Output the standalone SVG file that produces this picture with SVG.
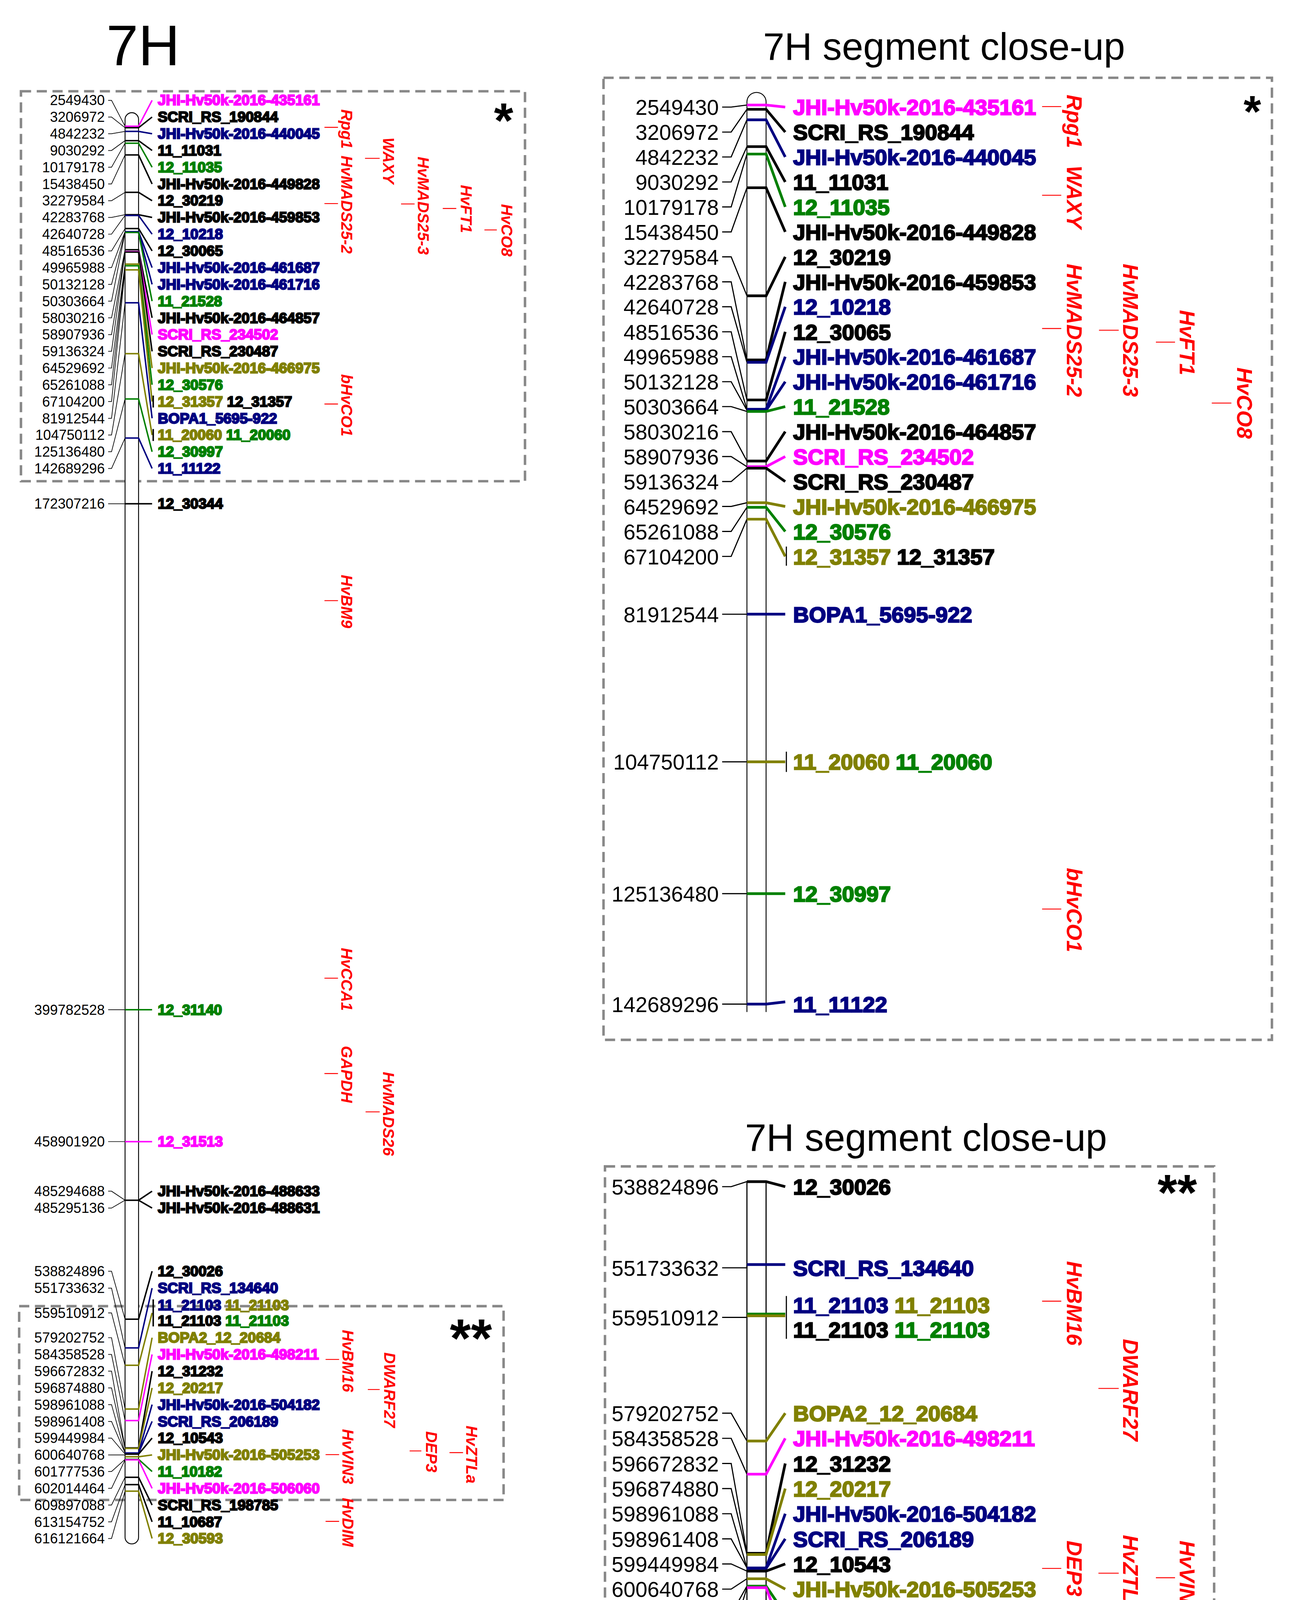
<svg xmlns="http://www.w3.org/2000/svg" width="3306" height="4520" viewBox="0 0 3306 4520">
<style>
text{font-family:"Liberation Sans",Arial,sans-serif}
.t{font-size:51px}
.tt{font-size:34px}
.n{font-size:12.5px;text-anchor:end}
.m{font-size:13px;font-weight:bold}
.N{font-size:19px;text-anchor:end}
.M{font-size:19.5px;font-weight:bold}
.g{font-size:14px;font-weight:bold;font-style:italic;fill:#ff0000}
.G{font-size:19px;font-weight:bold;font-style:italic;fill:#ff0000}
.box{fill:none;stroke:#888;stroke-width:2.2;stroke-dasharray:9 5}
.chr{fill:#fff;stroke:#000;stroke-width:0.8}
.lc{fill:none;stroke:#000;stroke-width:0.6}
.rc{fill:none;stroke-width:1.3}
.LC{fill:none;stroke:#000;stroke-width:1}
.RC{fill:none;stroke-width:2.4}
.gt{stroke:#ff0000;stroke-width:0.8}
.k{fill:#000;stroke:#000}.p{fill:#ff00ff;stroke:#ff00ff}.b{fill:#000080;stroke:#000080}.e{fill:#008000;stroke:#008000}.o{fill:#808000;stroke:#808000}
path.k,path.p,path.b,path.e,path.o{fill:none}
</style>
<rect width="3306" height="4520" fill="#fff"/>
<g transform="scale(2.885)">
<g id="titles">
<text class="t" x="127" y="58" text-anchor="middle">7H</text>
<text class="tt" x="838" y="53" text-anchor="middle">7H segment close-up</text>
<text class="tt" x="822" y="1021" text-anchor="middle">7H segment close-up</text>
</g>
<g id="boxes">
<rect class="box" x="18.6" y="81" width="447.4" height="346"/>
<rect class="box" x="17" y="1159" width="430" height="172"/>
<rect class="box" x="535.7" y="69" width="593.3" height="853.7"/>
<rect class="box" x="537" y="1035" width="540.7" height="511.6"/>
<text x="447" y="122" font-size="44" font-weight="bold" text-anchor="middle">*</text>
<text x="418" y="1204" font-size="48" font-weight="bold" text-anchor="middle">**</text>
<text x="1111.6" y="112.5" font-size="40" font-weight="bold" text-anchor="middle">*</text>
<text x="1045" y="1074" font-size="45" font-weight="bold" text-anchor="middle">**</text>
</g>
<g id="chromosomes">
<rect class="chr" x="111" y="100" width="12" height="1270" rx="6"/>
<path class="chr" d="M663 898V90.5A8.5 8.5 0 0 1 680 90.5V898" stroke-width="1"/>
<path fill="none" stroke="#000" stroke-width="1" d="M663 1048V1529M680 1048V1529"/>
</g>
<g id="connectors">
<!-- left top -->
<path class="lc" d="M96 89H99L111 112M96 103.85H99L111 113.3M96 118.7H99L111 116.6M96 133.55H99L111 124.8M96 148.4H99L111 127.1M96 163.25H99L111 137.5M96 178.1H99L111 170.7M96 192.95H99L111 190.5M96 207.8H99L111 191.2M96 222.65H99L111 202.8M96 237.5H99L111 205.6M96 252.35H99L111 206M96 267.2H99L111 206.3M96 282.05H99L111 221.6M96 296.9H99L111 223.3M96 311.75H99L111 223.7M96 326.6H99L111 234.4M96 341.45H99L111 235.8M96 356.3H99L111 239.5M96 371.15H99L111 268.7M96 386H99L111 313.8M96 400.85H99L111 354M96 415.7H99L111 388.7"/>
<path class="rc p" d="M111 112H123L135 89"/>
<path class="rc k" d="M111 113.3H123L135 103.85"/>
<path class="rc b" d="M111 116.6H123L135 118.7"/>
<path class="rc k" d="M111 124.8H123L135 133.55"/>
<path class="rc e" d="M111 127.1H123L135 148.4"/>
<path class="rc k" d="M111 137.5H123L135 163.25"/>
<path class="rc k" d="M111 170.7H123L135 178.1"/>
<path class="rc k" d="M111 190.5H123L135 192.95"/>
<path class="rc b" d="M111 191.2H123L135 207.8"/>
<path class="rc k" d="M111 202.8H123L135 222.65"/>
<path class="rc b" d="M111 205.6H123L135 237.5"/>
<path class="rc b" d="M111 206H123L135 252.35"/>
<path class="rc e" d="M111 206.3H123L135 267.2"/>
<path class="rc k" d="M111 221.6H123L135 282.05"/>
<path class="rc p" d="M111 223.3H123L135 296.9"/>
<path class="rc k" d="M111 223.7H123L135 311.75"/>
<path class="rc o" d="M111 234.4H123L135 326.6"/>
<path class="rc e" d="M111 235.8H123L135 341.45"/>
<path class="rc o" d="M111 239.5H123L135 356.3"/>
<path class="rc k" d="M136 351V361.6"/>
<path class="rc b" d="M111 268.7H123L135 371.15"/>
<path class="rc o" d="M111 313.8H123L135 386"/>
<path class="rc k" d="M136 380.7V391.3"/>
<path class="rc e" d="M111 354H123L135 400.85"/>
<path class="rc b" d="M111 388.7H123L135 415.7"/>
<!-- left middle -->
<path class="lc" d="M96 447H111M96 896H111M96 1013H111M96 1057H99L111 1065M96 1072H99L111 1065"/>
<path class="rc k" d="M111 447H135"/>
<path class="rc e" d="M111 896H135"/>
<path class="rc p" d="M111 1013H135"/>
<path class="rc k" d="M111 1065H123L135 1057M123 1065L135 1072"/>
<!-- left bottom -->
<path class="lc" d="M96 1128H99L111 1170.6M96 1143H99L111 1196.1M96 1165H99L111 1211.5M96 1187H99L111 1250.3M96 1201.9H99L111 1260.5M96 1216.7H99L111 1284.8M96 1231.6H99L111 1285.2M96 1246.4H99L111 1289.3M96 1261.3H99L111 1289.3M96 1276.1H99L111 1290.3M96 1291H111L111 1292.7M96 1305.8H99L111 1294.9M96 1320.7H99L111 1295.4M96 1335.5H99L111 1310.9M96 1350.4H99L111 1317.4M96 1365.2H99L111 1323.2"/>
<path class="rc k" d="M111 1170.6H123L135 1128"/>
<path class="rc b" d="M111 1196.1H123L135 1143"/>
<path class="rc o" d="M111 1211.5H123L135 1165"/>
<path class="rc k" d="M136 1153V1177"/>
<path class="rc o" d="M111 1250.3H123L135 1187"/>
<path class="rc p" d="M111 1260.5H123L135 1201.9"/>
<path class="rc k" d="M111 1284.8H123L135 1216.7"/>
<path class="rc o" d="M111 1285.2H123L135 1231.6"/>
<path class="rc b" d="M111 1289.3H123L135 1246.4"/>
<path class="rc b" d="M111 1289.5H123L135 1261.3"/>
<path class="rc k" d="M111 1290.3H123L135 1276.1"/>
<path class="rc o" d="M111 1292.7H123L135 1291"/>
<path class="rc e" d="M111 1294.9H123L135 1305.8"/>
<path class="rc p" d="M111 1295.4H123L135 1320.7"/>
<path class="rc k" d="M111 1310.9H123L135 1335.5"/>
<path class="rc k" d="M111 1317.4H123L135 1350.4"/>
<path class="rc o" d="M111 1323.2H123L135 1365.2"/>
<!-- right top -->
<path class="LC" d="M641 95H649L663 93.2M641 117.2H649L663 97M641 139.3H649L663 106.3M641 161.5H649L663 130.1M641 183.6H649L663 136.7M641 205.8H649L663 166.6M641 227.9H649L663 262.5M641 250.1H649L663 319.4M641 272.2H649L663 321.5M641 294.4H649L663 354.9M641 316.5H649L663 363.2M641 338.7H649L663 364.1M641 360.8H649L663 365.1M641 383H649L663 409.1M641 405.1H649L663 414.1M641 427.3H649L663 415.4M641 449.4H649L663 446.1M641 471.6H649L663 450.2M641 493.7H649L663 460.7M641 545H663M641 676H663M641 793H663M641 891H663"/>
<path class="RC p" d="M663 93.2H680L697 95"/>
<path class="RC k" d="M663 97H680L697 117.2"/>
<path class="RC b" d="M663 106.3H680L697 139.3"/>
<path class="RC k" d="M663 130.1H680L697 161.5"/>
<path class="RC e" d="M663 136.7H680L697 183.6"/>
<path class="RC k" d="M663 166.6H680L697 205.8"/>
<path class="RC k" d="M663 262.5H680L697 227.9"/>
<path class="RC k" d="M663 319.4H680L697 250.1"/>
<path class="RC b" d="M663 321.5H680L697 272.2"/>
<path class="RC k" d="M663 354.9H680L697 294.4"/>
<path class="RC b" d="M663 363.2H680L697 316.5"/>
<path class="RC b" d="M663 364.1H680L697 338.7"/>
<path class="RC e" d="M663 365.1H680L697 360.8"/>
<path class="RC k" d="M663 409.1H680L697 383"/>
<path class="RC p" d="M663 414.1H680L697 405.1"/>
<path class="RC k" d="M663 415.4H680L697 427.3"/>
<path class="RC o" d="M663 446.1H680L697 449.4"/>
<path class="RC e" d="M663 450.2H680L697 471.6"/>
<path class="RC o" d="M663 460.7H680L697 493.7"/>
<path class="LC" d="M698 485V502"/>
<path class="RC b" d="M663 545H697"/>
<path class="RC o" d="M663 676H697"/>
<path class="LC" d="M698 667V685"/>
<path class="RC e" d="M663 793H697"/>
<path class="RC b" d="M663 891H680L697 889"/>
<!-- right bottom -->
<path class="LC" d="M641 1053H649L663 1048.5M641 1125H663L663 1122.1M641 1169H663L663 1166.4M641 1254H649L663 1278.7M641 1276.3H649L663 1308.1M641 1298.6H649L663 1378.3M641 1320.9H649L663 1379.4M641 1343.2H649L663 1391.3M641 1365.5H649L663 1391.3M641 1387.8H649L663 1394.1M641 1410.1H649L663 1400.9M641 1432.4H649L663 1407.4M641 1454.7H649L663 1408.8M641 1477H649L663 1453.7M641 1499.3H649L663 1472.3M641 1521.6H649L663 1489.2"/>
<path class="RC k" d="M663 1048.5H680L697 1053"/>
<path class="RC b" d="M663 1122.1H697"/>
<path class="RC e" d="M663 1166H697"/>
<path class="RC o" d="M663 1167.6H697" stroke-width="1.4"/>
<path class="LC" d="M698 1150V1188"/>
<path class="RC o" d="M663 1278.7H680L697 1254"/>
<path class="RC p" d="M663 1308.1H680L697 1276.3"/>
<path class="RC k" d="M663 1378.3H680L697 1298.6"/>
<path class="RC o" d="M663 1379.4H680L697 1320.9"/>
<path class="RC b" d="M663 1391.3H680L697 1343.2"/>
<path class="RC b" d="M663 1391.8H680L697 1365.5"/>
<path class="RC k" d="M663 1394.1H680L697 1387.8"/>
<path class="RC o" d="M663 1400.9H680L697 1410.1"/>
<path class="RC e" d="M663 1407.4H680L697 1432.4"/>
<path class="RC p" d="M663 1408.8H680L697 1454.7"/>
<path class="RC k" d="M663 1453.7H680L697 1477"/>
<path class="RC k" d="M663 1472.3H680L697 1499.3"/>
<path class="RC o" d="M663 1489.2H680L697 1521.6"/>
<!-- gene ticks -->
<path class="gt" d="M288 113H300M324 140.5H337M288 180.6H300M356 181H368M393 185H405M430 204H441M288 358.5H300M288 533H300M288 868H300M288 952.6H300M324.5 986.6H337M289 1206.3H301M326.5 1233H337M289 1290.8H301M363.6 1287.5H374M399 1289H411M289 1350H301"/>
<path class="gt" stroke-width="1.1" d="M925 94.6H942M925 173.3H942M925 291.5H942M975.5 293H993M1026 303.6H1043M1075.6 357.7H1093M925 806.6H942M925 1154.6H942M975 1232H993M925 1391.7H942M975 1396H993M1026 1400H1043"/>
</g>
<g id="left-top-markers">
<g id="L1"><text class="n" x="93" y="93.4">2549430</text><text class="m p" x="140" y="93.4">JHI-Hv50k-2016-435161</text></g>
<g id="L2"><text class="n" x="93" y="108.3">3206972</text><text class="m k" x="140" y="108.3">SCRI_RS_190844</text></g>
<g id="L3"><text class="n" x="93" y="123.1">4842232</text><text class="m b" x="140" y="123.1">JHI-Hv50k-2016-440045</text></g>
<g id="L4"><text class="n" x="93" y="138">9030292</text><text class="m k" x="140" y="138">11_11031</text></g>
<g id="L5"><text class="n" x="93" y="152.8">10179178</text><text class="m e" x="140" y="152.8">12_11035</text></g>
<g id="L6"><text class="n" x="93" y="167.7">15438450</text><text class="m k" x="140" y="167.7">JHI-Hv50k-2016-449828</text></g>
<g id="L7"><text class="n" x="93" y="182.5">32279584</text><text class="m k" x="140" y="182.5">12_30219</text></g>
<g id="L8"><text class="n" x="93" y="197.4">42283768</text><text class="m k" x="140" y="197.4">JHI-Hv50k-2016-459853</text></g>
<g id="L9"><text class="n" x="93" y="212.2">42640728</text><text class="m b" x="140" y="212.2">12_10218</text></g>
<g id="L10"><text class="n" x="93" y="227.1">48516536</text><text class="m k" x="140" y="227.1">12_30065</text></g>
<g id="L11"><text class="n" x="93" y="241.9">49965988</text><text class="m b" x="140" y="241.9">JHI-Hv50k-2016-461687</text></g>
<g id="L12"><text class="n" x="93" y="256.8">50132128</text><text class="m b" x="140" y="256.8">JHI-Hv50k-2016-461716</text></g>
<g id="L13"><text class="n" x="93" y="271.6">50303664</text><text class="m e" x="140" y="271.6">11_21528</text></g>
<g id="L14"><text class="n" x="93" y="286.5">58030216</text><text class="m k" x="140" y="286.5">JHI-Hv50k-2016-464857</text></g>
<g id="L15"><text class="n" x="93" y="301.3">58907936</text><text class="m p" x="140" y="301.3">SCRI_RS_234502</text></g>
<g id="L16"><text class="n" x="93" y="316.2">59136324</text><text class="m k" x="140" y="316.2">SCRI_RS_230487</text></g>
<g id="L17"><text class="n" x="93" y="331">64529692</text><text class="m o" x="140" y="331">JHI-Hv50k-2016-466975</text></g>
<g id="L18"><text class="n" x="93" y="345.9">65261088</text><text class="m e" x="140" y="345.9">12_30576</text></g>
<g id="L19"><text class="n" x="93" y="360.7">67104200</text><text class="m" x="140" y="360.7"><tspan class="o">12_31357</tspan> <tspan class="k">12_31357</tspan></text></g>
<g id="L20"><text class="n" x="93" y="375.6">81912544</text><text class="m b" x="140" y="375.6">BOPA1_5695-922</text></g>
<g id="L21"><text class="n" x="93" y="390.4">104750112</text><text class="m" x="140" y="390.4"><tspan class="o">11_20060</tspan> <tspan class="e">11_20060</tspan></text></g>
<g id="L22"><text class="n" x="93" y="405.3">125136480</text><text class="m e" x="140" y="405.3">12_30997</text></g>
<g id="L23"><text class="n" x="93" y="420.1">142689296</text><text class="m b" x="140" y="420.1">11_11122</text></g>
</g>
<g id="left-mid-markers">
<g id="L24"><text class="n" x="93" y="451.4">172307216</text><text class="m k" x="140" y="451.4">12_30344</text></g>
<g id="L25"><text class="n" x="93" y="900.4">399782528</text><text class="m e" x="140" y="900.4">12_31140</text></g>
<g id="L26"><text class="n" x="93" y="1017.4">458901920</text><text class="m p" x="140" y="1017.4">12_31513</text></g>
<g id="L27"><text class="n" x="93" y="1061.4">485294688</text><text class="m k" x="140" y="1061.4">JHI-Hv50k-2016-488633</text></g>
<g id="L28"><text class="n" x="93" y="1076.4">485295136</text><text class="m k" x="140" y="1076.4">JHI-Hv50k-2016-488631</text></g>
</g>
<g id="left-bottom-markers">
<g id="L29"><text class="n" x="93" y="1132.4">538824896</text><text class="m k" x="140" y="1132.4">12_30026</text></g>
<g id="L30"><text class="n" x="93" y="1147.4">551733632</text><text class="m b" x="140" y="1147.4">SCRI_RS_134640</text></g>
<g id="L31"><text class="n" x="93" y="1169.4">559510912</text><text class="m" x="140" y="1162.4"><tspan class="b">11_21103</tspan> <tspan class="o">11_21103</tspan></text><text class="m" x="140" y="1176.4"><tspan class="k">11_21103</tspan> <tspan class="e">11_21103</tspan></text></g>
<g id="L32"><text class="n" x="93" y="1191.4">579202752</text><text class="m o" x="140" y="1191.4">BOPA2_12_20684</text></g>
<g id="L33"><text class="n" x="93" y="1206.3">584358528</text><text class="m p" x="140" y="1206.3">JHI-Hv50k-2016-498211</text></g>
<g id="L34"><text class="n" x="93" y="1221.1">596672832</text><text class="m k" x="140" y="1221.1">12_31232</text></g>
<g id="L35"><text class="n" x="93" y="1236">596874880</text><text class="m o" x="140" y="1236">12_20217</text></g>
<g id="L36"><text class="n" x="93" y="1250.8">598961088</text><text class="m b" x="140" y="1250.8">JHI-Hv50k-2016-504182</text></g>
<g id="L37"><text class="n" x="93" y="1265.7">598961408</text><text class="m b" x="140" y="1265.7">SCRI_RS_206189</text></g>
<g id="L38"><text class="n" x="93" y="1280.5">599449984</text><text class="m k" x="140" y="1280.5">12_10543</text></g>
<g id="L39"><text class="n" x="93" y="1295.4">600640768</text><text class="m o" x="140" y="1295.4">JHI-Hv50k-2016-505253</text></g>
<g id="L40"><text class="n" x="93" y="1310.2">601777536</text><text class="m e" x="140" y="1310.2">11_10182</text></g>
<g id="L41"><text class="n" x="93" y="1325.1">602014464</text><text class="m p" x="140" y="1325.1">JHI-Hv50k-2016-506060</text></g>
<g id="L42"><text class="n" x="93" y="1339.9">609897088</text><text class="m k" x="140" y="1339.9">SCRI_RS_198785</text></g>
<g id="L43"><text class="n" x="93" y="1354.8">613154752</text><text class="m k" x="140" y="1354.8">11_10687</text></g>
<g id="L44"><text class="n" x="93" y="1369.6">616121664</text><text class="m o" x="140" y="1369.6">12_30593</text></g>
</g>
<g id="left-genes">
<text class="g" transform="translate(303 97) rotate(90)">Rpg1</text>
<text class="g" transform="translate(303 138) rotate(90)">HvMADS25-2</text>
<text class="g" transform="translate(340 122) rotate(90)">WAXY</text>
<text class="g" transform="translate(371 139) rotate(90)">HvMADS25-3</text>
<text class="g" transform="translate(409 164) rotate(90)">HvFT1</text>
<text class="g" transform="translate(445 181) rotate(90)">HvCO8</text>
<text class="g" transform="translate(303 332) rotate(90)">bHvCO1</text>
<text class="g" transform="translate(303 510) rotate(90)">HvBM9</text>
<text class="g" transform="translate(303 841) rotate(90)">HvCCA1</text>
<text class="g" transform="translate(303 928) rotate(90)">GAPDH</text>
<text class="g" transform="translate(340 951) rotate(90)">HvMADS26</text>
<text class="g" transform="translate(304 1180) rotate(90)">HvBM16</text>
<text class="g" transform="translate(341 1200) rotate(90)">DWARF27</text>
<text class="g" transform="translate(304 1268) rotate(90)">HvVIN3</text>
<text class="g" transform="translate(378 1270) rotate(90)">DEP3</text>
<text class="g" transform="translate(414 1265) rotate(90)">HvZTLa</text>
<text class="g" transform="translate(304 1329) rotate(90)">HvDIM</text>
</g>
<g id="right-top-markers">
<g id="R1"><text class="N" x="638" y="102">2549430</text><text class="M p" x="704" y="102">JHI-Hv50k-2016-435161</text></g>
<g id="R2"><text class="N" x="638" y="124.2">3206972</text><text class="M k" x="704" y="124.2">SCRI_RS_190844</text></g>
<g id="R3"><text class="N" x="638" y="146.3">4842232</text><text class="M b" x="704" y="146.3">JHI-Hv50k-2016-440045</text></g>
<g id="R4"><text class="N" x="638" y="168.5">9030292</text><text class="M k" x="704" y="168.5">11_11031</text></g>
<g id="R5"><text class="N" x="638" y="190.6">10179178</text><text class="M e" x="704" y="190.6">12_11035</text></g>
<g id="R6"><text class="N" x="638" y="212.8">15438450</text><text class="M k" x="704" y="212.8">JHI-Hv50k-2016-449828</text></g>
<g id="R7"><text class="N" x="638" y="234.9">32279584</text><text class="M k" x="704" y="234.9">12_30219</text></g>
<g id="R8"><text class="N" x="638" y="257.1">42283768</text><text class="M k" x="704" y="257.1">JHI-Hv50k-2016-459853</text></g>
<g id="R9"><text class="N" x="638" y="279.2">42640728</text><text class="M b" x="704" y="279.2">12_10218</text></g>
<g id="R10"><text class="N" x="638" y="301.4">48516536</text><text class="M k" x="704" y="301.4">12_30065</text></g>
<g id="R11"><text class="N" x="638" y="323.5">49965988</text><text class="M b" x="704" y="323.5">JHI-Hv50k-2016-461687</text></g>
<g id="R12"><text class="N" x="638" y="345.7">50132128</text><text class="M b" x="704" y="345.7">JHI-Hv50k-2016-461716</text></g>
<g id="R13"><text class="N" x="638" y="367.8">50303664</text><text class="M e" x="704" y="367.8">11_21528</text></g>
<g id="R14"><text class="N" x="638" y="390">58030216</text><text class="M k" x="704" y="390">JHI-Hv50k-2016-464857</text></g>
<g id="R15"><text class="N" x="638" y="412.1">58907936</text><text class="M p" x="704" y="412.1">SCRI_RS_234502</text></g>
<g id="R16"><text class="N" x="638" y="434.3">59136324</text><text class="M k" x="704" y="434.3">SCRI_RS_230487</text></g>
<g id="R17"><text class="N" x="638" y="456.4">64529692</text><text class="M o" x="704" y="456.4">JHI-Hv50k-2016-466975</text></g>
<g id="R18"><text class="N" x="638" y="478.6">65261088</text><text class="M e" x="704" y="478.6">12_30576</text></g>
<g id="R19"><text class="N" x="638" y="500.7">67104200</text><text class="M" x="704" y="500.7"><tspan class="o">12_31357</tspan> <tspan class="k">12_31357</tspan></text></g>
<g id="R20"><text class="N" x="638" y="552">81912544</text><text class="M b" x="704" y="552">BOPA1_5695-922</text></g>
<g id="R21"><text class="N" x="638" y="683">104750112</text><text class="M" x="704" y="683"><tspan class="o">11_20060</tspan> <tspan class="e">11_20060</tspan></text></g>
<g id="R22"><text class="N" x="638" y="800">125136480</text><text class="M e" x="704" y="800">12_30997</text></g>
<g id="R23"><text class="N" x="638" y="898">142689296</text><text class="M b" x="704" y="898">11_11122</text></g>
</g>
<g id="right-bottom-markers">
<g id="R24"><text class="N" x="638" y="1060">538824896</text><text class="M k" x="704" y="1060">12_30026</text></g>
<g id="R25"><text class="N" x="638" y="1132">551733632</text><text class="M b" x="704" y="1132">SCRI_RS_134640</text></g>
<g id="R26"><text class="N" x="638" y="1176">559510912</text><text class="M" x="704" y="1165"><tspan class="b">11_21103</tspan> <tspan class="o">11_21103</tspan></text><text class="M" x="704" y="1187"><tspan class="k">11_21103</tspan> <tspan class="e">11_21103</tspan></text></g>
<g id="R27"><text class="N" x="638" y="1261">579202752</text><text class="M o" x="704" y="1261">BOPA2_12_20684</text></g>
<g id="R28"><text class="N" x="638" y="1283.3">584358528</text><text class="M p" x="704" y="1283.3">JHI-Hv50k-2016-498211</text></g>
<g id="R29"><text class="N" x="638" y="1305.6">596672832</text><text class="M k" x="704" y="1305.6">12_31232</text></g>
<g id="R30"><text class="N" x="638" y="1327.9">596874880</text><text class="M o" x="704" y="1327.9">12_20217</text></g>
<g id="R31"><text class="N" x="638" y="1350.2">598961088</text><text class="M b" x="704" y="1350.2">JHI-Hv50k-2016-504182</text></g>
<g id="R32"><text class="N" x="638" y="1372.5">598961408</text><text class="M b" x="704" y="1372.5">SCRI_RS_206189</text></g>
<g id="R33"><text class="N" x="638" y="1394.8">599449984</text><text class="M k" x="704" y="1394.8">12_10543</text></g>
<g id="R34"><text class="N" x="638" y="1417.1">600640768</text><text class="M o" x="704" y="1417.1">JHI-Hv50k-2016-505253</text></g>
<g id="R35"><text class="N" x="638" y="1439.4">601777536</text><text class="M e" x="704" y="1439.4">11_10182</text></g>
<g id="R36"><text class="N" x="638" y="1461.7">602014464</text><text class="M p" x="704" y="1461.7">JHI-Hv50k-2016-506060</text></g>
<g id="R37"><text class="N" x="638" y="1484">609897088</text><text class="M k" x="704" y="1484">SCRI_RS_198785</text></g>
<g id="R38"><text class="N" x="638" y="1506.3">613154752</text><text class="M k" x="704" y="1506.3">11_10687</text></g>
<g id="R39"><text class="N" x="638" y="1528.6">616121664</text><text class="M o" x="704" y="1528.6">12_30593</text></g>
</g>
<g id="right-genes">
<text class="G" transform="translate(947 84) rotate(90)">Rpg1</text>
<text class="G" transform="translate(947 147) rotate(90)">WAXY</text>
<text class="G" transform="translate(947 234) rotate(90)">HvMADS25-2</text>
<text class="G" transform="translate(997 234) rotate(90)">HvMADS25-3</text>
<text class="G" transform="translate(1047 275) rotate(90)">HvFT1</text>
<text class="G" transform="translate(1098 326) rotate(90)">HvCO8</text>
<text class="G" transform="translate(947 770) rotate(90)">bHvCO1</text>
<text class="G" transform="translate(947 1119) rotate(90)">HvBM16</text>
<text class="G" transform="translate(997 1188) rotate(90)">DWARF27</text>
<text class="G" transform="translate(947 1367) rotate(90)">DEP3</text>
<text class="G" transform="translate(997 1362) rotate(90)">HvZTLa</text>
<text class="G" transform="translate(1047 1367) rotate(90)">HvVIN3</text>
</g>
</g>
</svg>
